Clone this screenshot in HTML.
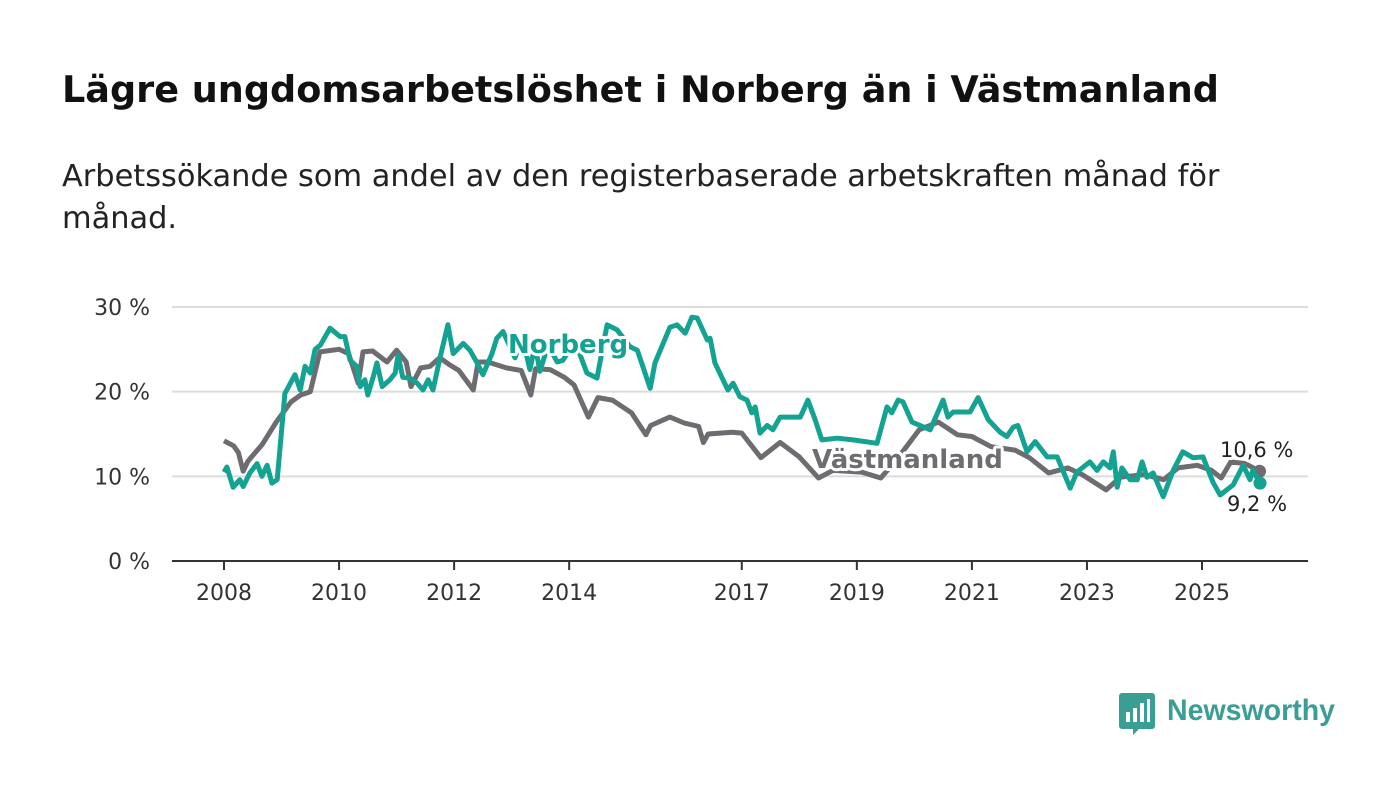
<!DOCTYPE html>
<html><head><meta charset="utf-8"><style>
body{margin:0;background:#fff;width:1400px;height:794px;overflow:hidden;font-family:"Liberation Sans",sans-serif}
svg text{font-family:"DejaVu Sans","Liberation Sans",sans-serif}
svg text.lib{font-family:"Liberation Sans",sans-serif}
</style></head><body>
<svg id="chart" width="1400" height="794" viewBox="0 0 1400 794" xmlns="http://www.w3.org/2000/svg">
<text x="62" y="102" font-size="36.6" font-weight="bold" fill="#111">Lägre ungdomsarbetslöshet i Norberg än i Västmanland</text>
<text x="62" y="186" font-size="30.4" fill="#222">Arbetssökande som andel av den registerbaserade arbetskraften månad för</text>
<text x="62" y="228" font-size="30.4" fill="#222">månad.</text>
<g id="grid"></g><g id="axes"></g><g id="series"></g><g id="labels"></g>
<g>
<path d="M1122 693h30a3 3 0 0 1 3 3v30a3 3 0 0 1-3 3h-13l-6 6v-6h-11a3 3 0 0 1-3-3v-30a3 3 0 0 1 3-3z" fill="#3a9e94"/>
<rect x="1126" y="712" width="4" height="10" fill="#fff"/><rect x="1133" y="708" width="4" height="14" fill="#fff"/><rect x="1140" y="703" width="4" height="19" fill="#fff"/><rect x="1147" y="699" width="3" height="23" fill="#fff"/>
<text class="lib" x="1167" y="720" font-size="30" font-weight="bold" fill="#3a9e94" textLength="168" lengthAdjust="spacingAndGlyphs">Newsworthy</text>
</g>
</svg>
<script>
const yTicks=[0,10,20,30];
const yTickLabels=["0 %","10 %","20 %","30 %"];
const xTickYears=[2008,2010,2012,2014,2017,2019,2021,2023,2025];
// months since Jan 2008
const vastMonths=[0,2,3,4,5,8,11,14,16,18,20,24,26,28,29,31,34,36,38,39,41,43,45,47,49,52,53,55,59,62,64,65,68,71,73,76,78,81,85,88,89,93,96,99,100,101,106,108,112,116,120,124,127,133,137,141,145,149,153,156,160,165,168,172,176,179,184,187,192,196,199,203,206,208,210,213,216];
const vastValues=[14.2,13.6,12.8,10.6,11.8,13.8,16.5,18.8,19.6,20,24.7,25,24.5,21,24.7,24.8,23.5,24.9,23.5,20.6,22.8,23,24,23.2,22.5,20.2,23.5,23.5,22.8,22.5,19.6,22.7,22.6,21.7,20.8,17,19.3,19,17.5,14.9,16,17,16.3,15.9,14,15,15.2,15.1,12.2,14,12.3,9.8,10.7,10.5,9.8,12.5,15.5,16.4,14.9,14.7,13.5,13.1,12.2,10.4,11,10.2,8.4,9.9,10.2,9.6,11,11.3,10.7,9.8,11.7,11.5,10.6];
const norMonths=[0,0.6,1.9,3.3,4.0,5.4,6.9,7.9,9.0,10.0,
11.1,12.7,14.8,15.9,16.9,18.0,19.0,20.1,22.1,24.2,
25.2,26.3,27.7,28.4,29.4,30.0,31.1,31.9,33.0,34.6,
35.7,36.3,37.3,38.8,40.3,41.5,42.6,43.6,45.1,46.7,
47.8,49.9,51.3,52.8,54.0,55.9,56.9,58.2,60.7,62.2,
63.8,64.9,65.9,67.6,69.5,70.7,73.2,75.7,77.8,79.9,
82.0,84.7,86.2,88.9,89.9,93.0,94.5,96.2,97.6,98.7,
100.8,101.4,102.4,105.1,106.2,107.6,109.1,110.1,110.8,111.8,
113.3,114.5,116.0,120.2,121.8,123.3,124.7,127.9,131.2,136.2,
138.3,139.3,140.6,141.6,143.5,147.3,150.0,151.0,152.1,155.6,
157.3,159.4,161.9,163.3,164.6,165.6,167.5,169.2,171.7,173.8,
176.5,177.9,180.6,182.1,183.4,184.8,185.5,186.3,187.3,189.0,
190.5,191.5,192.5,193.8,195.9,198.0,200.0,202.1,204.2,206.3,
207.8,210.5,212.6,214.0,214.6,216.1];
const norValues=[10.5,11.1,8.7,9.6,8.8,10.4,11.5,10,11.3,9.2,
9.6,19.8,22,20.2,23,22.2,25,25.5,27.5,26.5,
26.5,23.7,23,20.6,21.4,19.6,21.7,23.4,20.6,21.4,
22.2,24.3,21.7,21.6,21,20.2,21.4,20.2,24.1,27.9,
24.5,25.7,24.9,23.4,22,24.5,26.3,27.1,24,26.5,
22.6,25.5,22.4,25.5,23.5,23.7,26,22.2,21.6,27.9,
27.3,25.3,24.9,20.4,23.4,27.6,27.9,26.9,28.8,28.7,
26.1,26.3,23.4,20.2,21,19.4,19,17.5,18.2,15.1,
16,15.5,17,17,19,16.7,14.3,14.5,14.3,13.9,
18.2,17.5,19,18.8,16.4,15.5,19,17,17.6,17.6,
19.3,16.7,15.2,14.7,15.8,16,12.9,14.1,12.3,12.3,
8.6,10.5,11.7,10.7,11.7,11,12.9,8.7,11,9.6,
9.6,11.7,9.9,10.4,7.6,10.7,12.9,12.2,12.3,9.3,
7.8,9,11.3,9.6,10.7,9.2];

const NS="http://www.w3.org/2000/svg";
const X0=224,PXY=57.53,Y0=561,PXV=8.467;
const xm=m=>X0+m/12*PXY, xy=y=>X0+(y-2008)*PXY, yv=v=>Y0-v*PXV;
function mk(t,a,p){const e=document.createElementNS(NS,t);for(const k in a)e.setAttribute(k,a[k]);document.getElementById(p).appendChild(e);return e;}
yTicks.forEach((t,i)=>{
  if(t>0){const g=mk('line',{x1:172,x2:1308,y1:yv(t),y2:yv(t),stroke:'#dcdcdc','stroke-width':2},'grid');
  
  }
  const l=mk('text',{x:150,y:yv(t)+8,'font-size':22,'text-anchor':'end',fill:'#333'},'axes');l.textContent=yTickLabels[i];
  
  
});
const ax=mk('line',{x1:172,x2:1308,y1:Y0,y2:Y0,stroke:'#333','stroke-width':2},'axes');


xTickYears.forEach(y=>{
  mk('line',{x1:xy(y),x2:xy(y),y1:Y0,y2:Y0+9,stroke:'#333','stroke-width':2},'axes');
  const l=mk('text',{x:xy(y),y:600,'font-size':22,'text-anchor':'middle',fill:'#333'},'axes');l.textContent=y;
  
  
});
function line(ms,vs,c,name){
  const d=ms.map((m,i)=>(i?'L':'M')+xm(m).toFixed(1)+' '+yv(vs[i]).toFixed(1)).join('');
  const p=mk('path',{d:d,fill:'none',stroke:c,'stroke-width':5,'stroke-linejoin':'round'},'series');
  
  
  const n=ms.length-1;
  const dot=mk('circle',{cx:xm(ms[n]),cy:yv(vs[n]),r:6.5,fill:c},'series');
  
  
}
line(vastMonths,vastValues,'#6e6c70','vastmanland-line');
line(norMonths,norValues,'#14a393','norberg-line');
function lab(txt,x,y,c,name,fs,bold,anchor){
  const t=mk('text',{x:x,y:y,'font-size':fs,'font-weight':bold?'bold':'normal',fill:c,stroke:'#fff','stroke-width':6,'paint-order':'stroke','stroke-linejoin':'round','text-anchor':anchor||'start'},'labels');
  t.textContent=txt;
  
  
}
lab('Norberg',508,353,'#14a393','norberg-series-label',26,true);
lab('Västmanland',812,468,'#6e6c70','vastmanland-series-label',26,true);
lab(vastValues[vastValues.length-1].toString().replace('.',',')+' %',1220,457,'#222','vastmanland-end-value',21,false);
lab(norValues[norValues.length-1].toString().replace('.',',')+' %',1227,511,'#222','norberg-end-value',21,false);
</script>
</body></html>
